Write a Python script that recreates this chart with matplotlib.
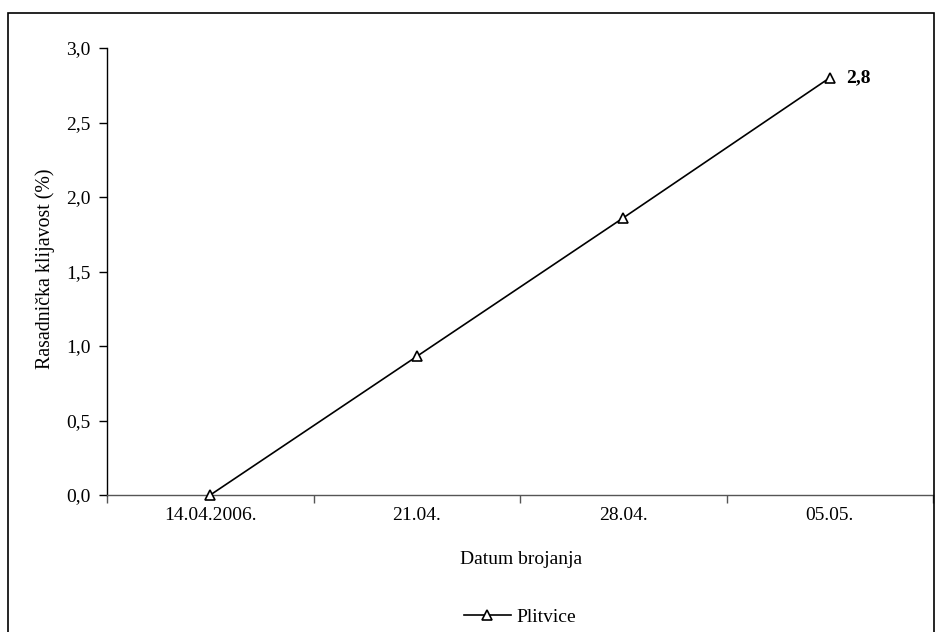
import matplotlib
matplotlib.use('Agg')
import matplotlib.pyplot as plt
from matplotlib.patches import Rectangle

# data
dates = ['14.04.2006.', '21.04.', '28.04.', '05.05.']
plitvice = [0.0, 0.93, 1.86, 2.8]
yticks = [0.0, 0.5, 1.0, 1.5, 2.0, 2.5, 3.0]

plt.rcParams['font.family'] = ['Liberation Serif', 'DejaVu Serif']
plt.rcParams['font.size'] = 14

W, H = 936, 632
fig = plt.figure(figsize=(W / 100, H / 100), dpi=100)
ax = fig.add_axes([107 / W, 1 - 495 / H, (933 - 107) / W, (495 - 48) / H])

x = list(range(len(dates)))
ax.plot(x, plitvice, color='black', lw=1.2, marker='^', markersize=7.5,
        markerfacecolor='white', markeredgecolor='black', markeredgewidth=1.2,
        label='Plitvice', clip_on=False, zorder=3)
ax.annotate('2,8', (x[-1], plitvice[-1]), xytext=(12, 0), textcoords='offset points',
            fontweight='bold', va='center', ha='left', fontsize=14)

ax.set_xlim(-0.5, len(dates) - 0.5)
ax.set_ylim(0, 3.0)
ax.set_yticks(yticks)
ax.set_yticklabels([f'{v:.1f}'.replace('.', ',') for v in yticks])
# category labels centered, tick marks between categories
ax.set_xticks([i - 0.5 for i in range(len(dates) + 1)])
ax.set_xticklabels([])
ax.set_xticks(x, minor=True)
ax.set_xticklabels(dates, minor=True)
ax.tick_params(axis='x', which='minor', length=0, pad=9)
ax.tick_params(axis='x', which='major', length=6, width=1, color='#555555', direction='out')
ax.tick_params(axis='y', length=6, width=1, direction='out', pad=6)

for s in ['top', 'right']:
    ax.spines[s].set_visible(False)
ax.spines['left'].set_linewidth(1.0)
ax.spines['bottom'].set_linewidth(1.0)
ax.spines['bottom'].set_color('#555555')

fig.text(45 / W, 1 - 269 / H, 'Rasadnička klijavost (%)', rotation=90,
         ha='center', va='center', fontsize=14.3)
fig.text(521 / W, 1 - 560 / H, 'Datum brojanja', ha='center', va='center', fontsize=14)

fig.legend(loc='center', bbox_to_anchor=(520 / W, 1 - 617 / H), frameon=False,
           handlelength=2.4, handletextpad=0.3, fontsize=14)

fig.patches.append(Rectangle((8 / W, -0.01), (934 - 8) / W, 1.01 - 13 / H,
                             transform=fig.transFigure, fill=False,
                             edgecolor='black', lw=1.2))

fig.savefig('out.png', dpi=100)
